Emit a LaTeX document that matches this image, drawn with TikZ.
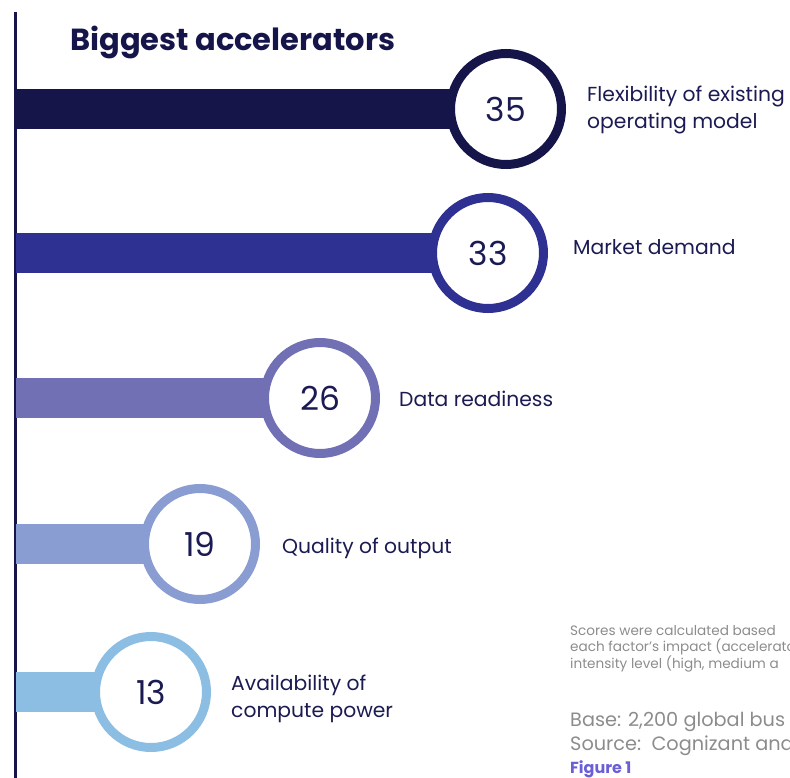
\documentclass[tikz,border=0pt]{standalone}
\usepackage{fontspec}
\setmainfont{Poppins}
\usetikzlibrary{positioning}

\definecolor{navy}{HTML}{16154A}
\definecolor{ink}{HTML}{1B1A52}
\definecolor{barA}{HTML}{16154A}
\definecolor{barB}{HTML}{2F3192}
\definecolor{barC}{HTML}{7270B5}
\definecolor{barD}{HTML}{8A9DD2}
\definecolor{barE}{HTML}{8CBDE3}
\definecolor{note}{HTML}{8C8C8C}
\definecolor{figc}{HTML}{6B5FD6}

\tikzset{
  ring/.style={circle, draw=#1, line width=9pt, fill=white, minimum size=111pt,
    inner sep=0pt, text=ink, font=\fontsize{33}{33}\selectfont},
  lab/.style={right, align=left, text=ink, inner sep=0pt,
    font=\fontsize{20.3}{27}\selectfont},
  small/.style={right, align=left, text=note, inner sep=0pt,
    font=\fontsize{13.6}{16}\selectfont},
}

\begin{document}
\begin{tikzpicture}[x=1pt,y=-1pt]
  \useasboundingbox (0,0) rectangle (790,778);
  \clip (0,0) rectangle (790,778);

  \node[right, inner sep=0pt, text=navy, font=\fontsize{30.5}{30}\selectfont\bfseries]
    (title) at (70,42) {Biggest accelerators};

  % axis
  \coordinate (top) at (15,12);
  \coordinate (bot) at (15,778);
  \draw[navy, line width=3pt] (top) -- (bot);

  % bars and scores
  \foreach \i/\cx/\cy/\v/\col in {1/506/109/35/barA, 2/488/253/33/barB,
      3/320/398/26/barC, 4/200/544/19/barD, 5/151/692/13/barE} {
    \coordinate (a\i) at (16,\cy);
    \draw[\col, line width=40pt] (a\i) -- (\cx,\cy);
    \node[ring=\col] (c\i) at (\cx,\cy) {\v};
  }

  \node[lab] (l1) at (587,110) {Flexibility of existing\\operating model};
  \node[lab] (l2) at (573,247) {Market demand};
  \node[lab] (l3) at (399,399) {Data readiness};
  \node[lab] (l4) at (282,548) {Quality of output};
  \node[lab] (l5) at (231,699) {Availability of\\compute power};

  % notes
  \node[small] (n1) at (570,649) {Scores were calculated based\\each factor’s impact (accelerato\\intensity level (high, medium a};
  \node[right, align=left, text=note, inner sep=0pt, font=\fontsize{19.3}{24}\selectfont]
    (n2) at (570,734) {Base: 2,200 global bus\\Source:\ \ Cognizant and};
  \node[right, inner sep=0pt, text=figc, font=\fontsize{16}{16}\selectfont\bfseries]
    (fig) at (570,769) {Figure 1};
\end{tikzpicture}
\end{document}
